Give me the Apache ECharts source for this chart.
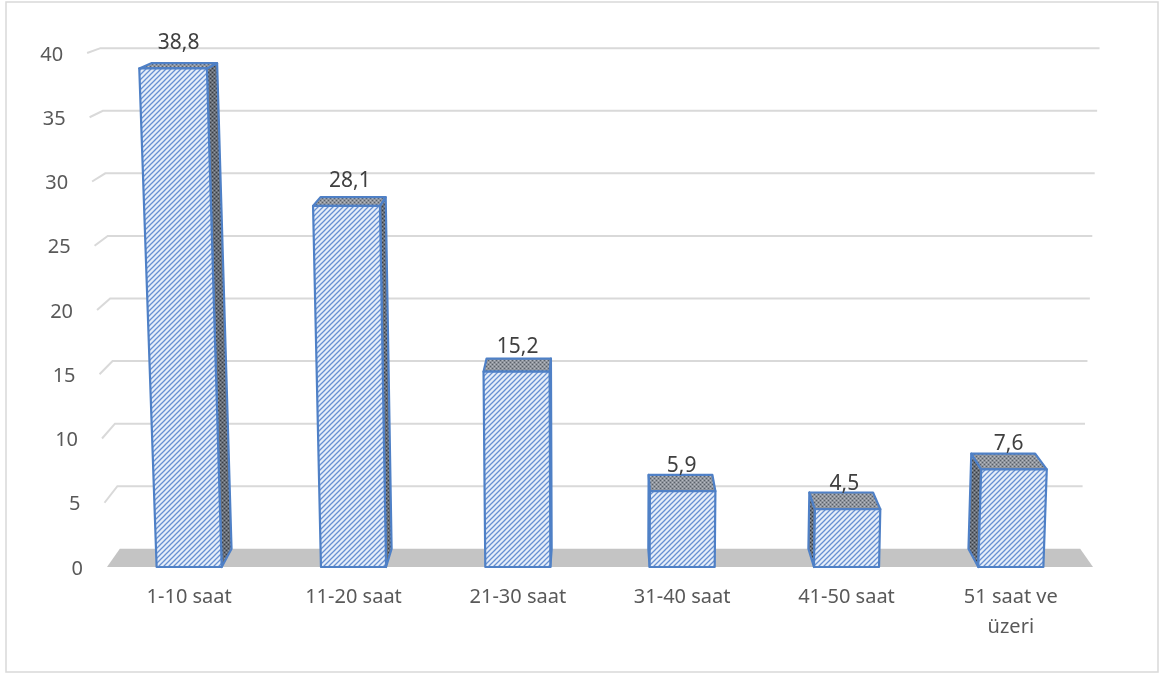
<!DOCTYPE html>
<html>
<head>
<meta charset="utf-8">
<script src="https://cdn.jsdelivr.net/npm/echarts/dist/echarts.min.js"></script>
<style>
html,body{margin:0;padding:0;background:#fff;}
#chart{width:1171px;height:675px;}
</style>
</head>
<body>
<div id="chart"></div>
<script>
// ---- data ----
const categories = ['1-10 saat', '11-20 saat', '21-30 saat', '31-40 saat', '41-50 saat', '51 saat ve\nüzeri'];
const values = [38.8, 28.1, 15.2, 5.9, 4.5, 7.6];
const yTicks = [5, 10, 15, 20, 25, 30, 35, 40];

// ---- style / perspective constants ----
const FONT = '"Noto Sans", "DejaVu Sans", sans-serif';
const CONV = 7.85e-5;   // vertical convergence of the front plane
const DEPTH = 0.026;    // depth shrink toward vanishing point
const VP_DY = 700;      // vanishing point distance above the floor
const BAR_RATIO = 0.396;
const EDGE = '#4f80c6';
const GRID = {left: 107, right: 78, top: 53, bottom: 108};
const W = 1171, H = 675;

function makePattern(w, h, draw) {
  const c = document.createElement('canvas');
  c.width = w; c.height = h;
  const ctx = c.getContext('2d');
  draw(ctx, w, h);
  return {image: c, repeat: 'repeat'};
}
const frontPattern = makePattern(5, 5, (ctx, w, h) => {
  ctx.fillStyle = '#e6eef9'; ctx.fillRect(0, 0, w, h);
  ctx.strokeStyle = '#6790d2'; ctx.lineWidth = 1.3;
  ctx.beginPath();
  ctx.moveTo(-1, 1); ctx.lineTo(1, -1);
  ctx.moveTo(-1, 6); ctx.lineTo(6, -1);
  ctx.moveTo(4, 6); ctx.lineTo(6, 4);
  ctx.stroke();
});
const sidePattern = makePattern(4, 4, (ctx, w, h) => {
  ctx.fillStyle = '#676d76'; ctx.fillRect(0, 0, w, h);
  ctx.fillStyle = '#373c44'; ctx.fillRect(0, 0, 1, 1); ctx.fillRect(2, 2, 1, 1);
  ctx.fillStyle = '#9299a2'; ctx.fillRect(2, 0, 1, 1); ctx.fillRect(0, 2, 1, 1);
});
const topPattern = makePattern(4, 4, (ctx, w, h) => {
  ctx.fillStyle = '#8f949c'; ctx.fillRect(0, 0, w, h);
  ctx.fillStyle = '#596068'; ctx.fillRect(0, 0, 1, 1); ctx.fillRect(2, 2, 1, 1);
  ctx.fillStyle = '#b8bcc2'; ctx.fillRect(2, 0, 1, 1); ctx.fillRect(0, 2, 1, 1);
});

function proj(cs, x, y, d) {
  const y0 = cs.y + cs.height, cx = cs.x + cs.width / 2;
  const s = 1 + (y0 - y) * CONV;
  const xf = cx + (x - cx) * s;
  const k = 1 - DEPTH * d;
  const vpy = y0 - VP_DY;
  return [cx + (xf - cx) * k, vpy + (y - vpy) * k];
}
const fmt = v => v.toFixed(1).replace('.', ',');

// y-axis labels follow the slanted left edge
const gridW = W - GRID.left - GRID.right, gridH = H - GRID.top - GRID.bottom;
const yRich = {};
[0].concat(yTicks).forEach(v => {
  const pad = (v / 40) * gridH * CONV * (gridW / 2);
  yRich['t' + v] = {padding: [4, pad, 0, 0], fontSize: 20, fontFamily: FONT, color: '#595959'};
});

const chart = echarts.init(document.getElementById('chart'));
chart.setOption({
  backgroundColor: '#ffffff',
  animation: false,
  graphic: [{
    type: 'rect', z: -10,
    shape: {x: 6, y: 2, width: 1152, height: 670},
    style: {fill: 'transparent', stroke: '#d9d9d9', lineWidth: 1.5}
  }],
  grid: {left: GRID.left, right: GRID.right, top: GRID.top, bottom: GRID.bottom},
  xAxis: {
    type: 'category',
    data: categories,
    axisLine: {show: false},
    axisTick: {show: false},
    splitLine: {show: false},
    axisLabel: {interval: 0, color: '#595959', fontSize: 20, fontFamily: FONT, margin: 15, lineHeight: 30}
  },
  yAxis: {
    type: 'value', min: 0, max: 40, interval: 5,
    axisLine: {show: false},
    axisTick: {show: false},
    splitLine: {show: false},
    axisLabel: {
      margin: 24,
      formatter: v => '{t' + v + '|' + v + '}',
      rich: yRich
    }
  },
  series: [
    {
      type: 'custom', z: 1, silent: true,
      data: [[0, 0]],
      renderItem(params, api) {
        const cs = params.coordSys;
        const y0 = api.coord([0, 0])[1];
        const x0 = cs.x, x1 = cs.x + cs.width;
        return {
          type: 'polygon',
          shape: {points: [proj(cs, x0, y0, 0), proj(cs, x1, y0, 0), proj(cs, x1, y0, 1), proj(cs, x0, y0, 1)]},
          style: {fill: '#c4c4c4'}
        };
      }
    },
    {
      type: 'custom', z: 1, silent: true,
      data: yTicks.map(v => [0, v]),
      renderItem(params, api) {
        const cs = params.coordSys;
        const y = api.coord([0, api.value(1)])[1];
        const x0 = cs.x, x1 = cs.x + cs.width;
        return {
          type: 'polyline',
          shape: {points: [proj(cs, x0, y, 0), proj(cs, x0, y, 1), proj(cs, x1, y, 1)]},
          style: {stroke: '#d9d9d9', lineWidth: 2, fill: null}
        };
      }
    },
    {
      type: 'custom', z: 5,
      data: values.map((v, i) => [i, v]),
      renderItem(params, api) {
        const cs = params.coordSys;
        const i = api.value(0), v = api.value(1);
        const base = api.coord([i, 0]), top = api.coord([i, v]);
        const bw = api.size([1, 0])[0] * BAR_RATIO;
        const xl = base[0] - bw / 2, xr = base[0] + bw / 2, yb = base[1], yt = top[1];
        const FLt = proj(cs, xl, yt, 0), FRt = proj(cs, xr, yt, 0);
        const FLb = proj(cs, xl, yb, 0), FRb = proj(cs, xr, yb, 0);
        const BLt = proj(cs, xl, yt, 1), BRt = proj(cs, xr, yt, 1);
        const BLb = proj(cs, xl, yb, 1), BRb = proj(cs, xr, yb, 1);
        const cx = cs.x + cs.width / 2;
        const edge = {stroke: EDGE, lineWidth: 2.2, lineJoin: 'round'};
        const side = base[0] < cx ? [FRt, BRt, BRb, FRb] : [FLt, BLt, BLb, FLb];
        const lx = (FLt[0] + FRt[0] + BLt[0] + BRt[0]) / 4;
        return {
          type: 'group',
          children: [
            {type: 'polygon', shape: {points: side}, style: Object.assign({fill: sidePattern}, edge)},
            {type: 'polygon', shape: {points: [FLt, FRt, BRt, BLt]}, style: Object.assign({fill: topPattern}, edge)},
            {type: 'polygon', shape: {points: [FLt, FRt, FRb, FLb]}, style: Object.assign({fill: frontPattern}, edge)},
            {type: 'text', style: {text: fmt(v), x: lx, y: FLt[1] - 25, align: 'center', verticalAlign: 'middle',
              fontSize: 21, fontFamily: FONT, fill: '#404040'}}
          ]
        };
      }
    }
  ]
});
</script>
</body>
</html>
